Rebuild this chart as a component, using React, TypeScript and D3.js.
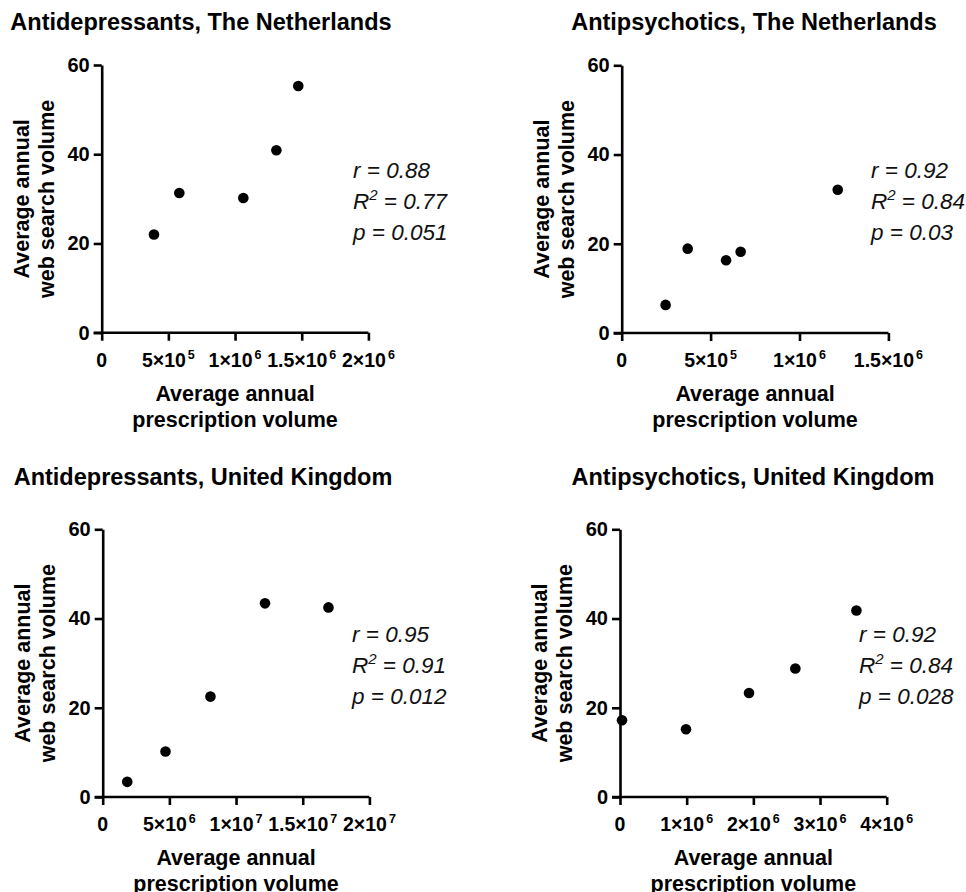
import { useRef, useEffect } from "react";
import * as d3 from "d3";

// Antidepressants, The Netherlands
const nlAdPrescriptions = [392000, 582000, 1062000, 1310000, 1474000];
const nlAdSearches = [22.0, 31.3, 30.2, 40.9, 55.3];
// Antipsychotics, The Netherlands
const nlApPrescriptions = [247000, 371000, 587000, 669000, 1215000];
const nlApSearches = [6.3, 18.9, 16.3, 18.2, 32.1];
// Antidepressants, United Kingdom
const ukAdPrescriptions = [1840000, 4710000, 8080000, 12170000, 16930000];
const ukAdSearches = [3.4, 10.2, 22.5, 43.4, 42.5];
// Antipsychotics, United Kingdom
const ukApPrescriptions = [30000, 990000, 1935000, 2630000, 3546000];
const ukApSearches = [17.2, 15.2, 23.3, 28.8, 41.8];

const yTicks = [0, 20, 40, 60];
const nlAdXTicks = [0, 5e5, 1e6, 1.5e6, 2e6];
const nlApXTicks = [0, 5e5, 1e6, 1.5e6];
const ukAdXTicks = [0, 5e6, 1e7, 1.5e7, 2e7];
const ukApXTicks = [0, 1e6, 2e6, 3e6, 4e6];

const nlAdStats = ["0.88", "0.77", "0.051"];
const nlApStats = ["0.92", "0.84", "0.03"];
const ukAdStats = ["0.95", "0.91", "0.012"];
const ukApStats = ["0.92", "0.84", "0.028"];

const titles = [
  "Antidepressants, The Netherlands",
  "Antipsychotics, The Netherlands",
  "Antidepressants, United Kingdom",
  "Antipsychotics, United Kingdom",
];

const W = 966;
const H = 892;
const FONT = "'Liberation Sans', Arial, sans-serif";

const panels = [
  { title: titles[0], xs: nlAdPrescriptions, ys: nlAdSearches, xTicks: nlAdXTicks, stats: nlAdStats,
    left: 101.7, top: 65, titleX: 201, titleY: 30, statX: 353 },
  { title: titles[1], xs: nlApPrescriptions, ys: nlApSearches, xTicks: nlApXTicks, stats: nlApStats,
    left: 621.7, top: 65.3, titleX: 754, titleY: 30, statX: 871 },
  { title: titles[2], xs: ukAdPrescriptions, ys: ukAdSearches, xTicks: ukAdXTicks, stats: ukAdStats,
    left: 102.7, top: 529.3, titleX: 203, titleY: 485, statX: 352 },
  { title: titles[3], xs: ukApPrescriptions, ys: ukApSearches, xTicks: ukApXTicks, stats: ukApStats,
    left: 620, top: 529.3, titleX: 753, titleY: 485, statX: 859 },
];

const PW = 266.7;
const PH = 267.7;

export default function App() {
  const svgRef = useRef<SVGSVGElement>(null);

  useEffect(() => {
    const svg = d3.select(svgRef.current);
    svg.selectAll("*").remove();
    svg.attr("font-family", FONT);

    panels.forEach((p) => {
      const xMax = p.xTicks[p.xTicks.length - 1];
      const x = d3.scaleLinear().domain([0, xMax]).range([p.left, p.left + PW]);
      const y = d3.scaleLinear().domain([0, 60]).range([p.top + PH, p.top]);
      const g = svg.append("g");

      // title
      g.append("text")
        .attr("x", p.titleX)
        .attr("y", p.titleY)
        .attr("text-anchor", "middle")
        .attr("font-size", 23.5)
        .attr("font-weight", "bold")
        .text(p.title);

      // x axis
      const xAxis = d3
        .axisBottom(x)
        .tickValues(p.xTicks)
        .tickSize(8)
        .tickSizeOuter(0)
        .tickFormat(() => "");
      const gx = g.append("g").attr("transform", `translate(0,${p.top + PH})`).call(xAxis);
      gx.select(".domain").attr("stroke", "#000").attr("stroke-width", 2.6)
        .attr("d", `M${p.left - 8},0H${p.left + PW}`);
      gx.selectAll(".tick line").attr("stroke", "#000").attr("stroke-width", 2.6);

      // x tick labels with superscripts
      p.xTicks.forEach((v) => {
        const t = g.append("text")
          .attr("x", x(v))
          .attr("y", p.top + PH + 34)
          .attr("text-anchor", "middle")
          .attr("font-size", 19.5)
          .attr("font-weight", "bold");
        if (v === 0) {
          t.text("0");
        } else {
          const exp = Math.floor(Math.log10(v));
          const mant = +(v / Math.pow(10, exp)).toFixed(1);
          t.append("tspan").text(`${mant}×10`);
          t.append("tspan").attr("dx", 2).attr("dy", -8).attr("font-size", 12.5).text(`${exp}`);
        }
      });

      // y axis
      const yAxis = d3.axisLeft(y).tickValues(yTicks).tickSize(8).tickSizeOuter(0).tickPadding(4);
      const gy = g.append("g").attr("transform", `translate(${p.left},0)`).call(yAxis);
      gy.select(".domain").attr("stroke", "#000").attr("stroke-width", 2.6);
      gy.selectAll(".tick line").attr("stroke", "#000").attr("stroke-width", 2.6);
      gy.selectAll(".tick text")
        .attr("font-family", FONT)
        .attr("font-size", 20)
        .attr("font-weight", "bold")
        .attr("fill", "#000");

      // x axis label
      const xlc = p.left + PW / 2;
      ["Average annual", "prescription volume"].forEach((s, i) => {
        g.append("text")
          .attr("x", xlc)
          .attr("y", p.top + PH + 68 + i * 26)
          .attr("text-anchor", "middle")
          .attr("font-size", 21.5)
          .attr("font-weight", "bold")
          .text(s);
      });

      // y axis label
      const ylc = p.top + PH / 2;
      ["Average annual", "web search volume"].forEach((s, i) => {
        g.append("text")
          .attr("transform", `translate(${p.left - 73 + i * 25},${ylc}) rotate(-90)`)
          .attr("text-anchor", "middle")
          .attr("font-size", 21.5)
          .attr("font-weight", "bold")
          .text(s);
      });

      // points
      g.selectAll("circle.pt")
        .data(p.xs.map((xv, i) => [xv, p.ys[i]]))
        .join("circle")
        .attr("class", "pt")
        .attr("cx", (d) => x(d[0]))
        .attr("cy", (d) => y(d[1]))
        .attr("r", 5.3)
        .attr("fill", "#000");

      // stats
      const st = g.append("g")
        .attr("font-size", 22.5)
        .attr("font-style", "italic")
        .attr("fill", "#111");
      const sy = p.top + 113;
      st.append("text").attr("x", p.statX).attr("y", sy).text(`r = ${p.stats[0]}`);
      const r2 = st.append("text").attr("x", p.statX).attr("y", sy + 31);
      r2.append("tspan").text("R");
      r2.append("tspan").attr("dy", -9).attr("font-size", 15).text("2");
      r2.append("tspan").attr("dy", 9).text(` = ${p.stats[1]}`);
      st.append("text").attr("x", p.statX).attr("y", sy + 62).text(`p = ${p.stats[2]}`);
    });
  }, []);

  return (
    <div style={{ position: "absolute", left: 0, top: 0, background: "#fff" }}>
      <svg ref={svgRef} width={W} height={H} />
    </div>
  );
}
